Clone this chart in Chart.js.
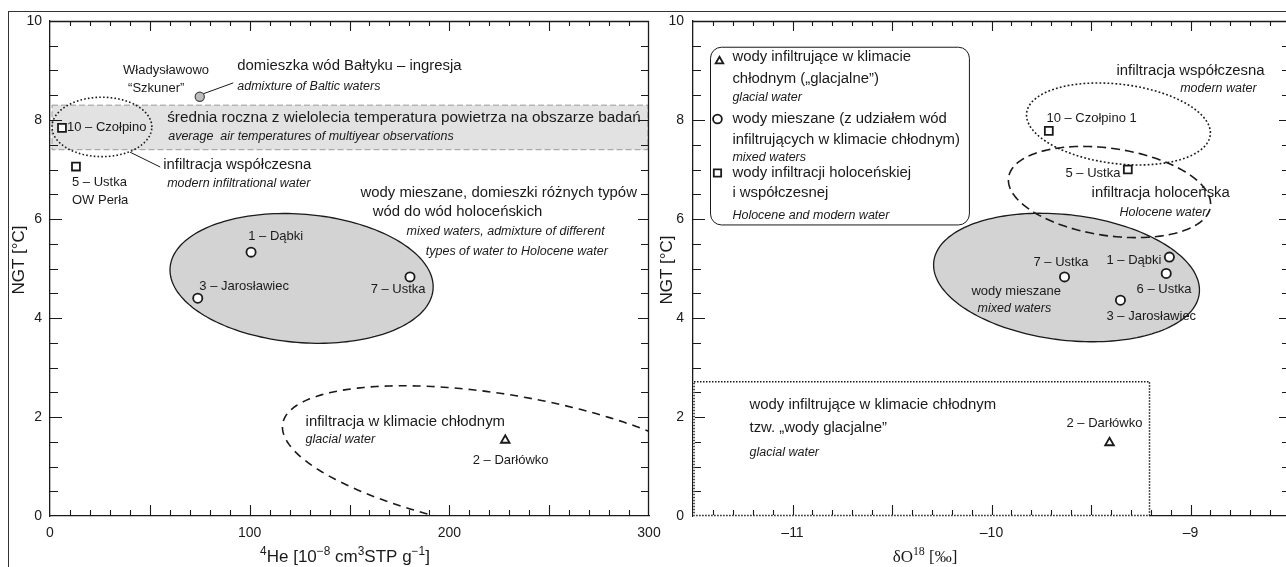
<!DOCTYPE html>
<html>
<head>
<meta charset="utf-8">
<script src="https://cdn.jsdelivr.net/npm/chart.js@4.4.0/dist/chart.umd.min.js"></script>
<style>
  html, body { margin: 0; padding: 0; background: #fff; overflow: hidden; }
  #frame { position: absolute; left: 8px; top: 11px; width: 1290px; height: 570px;
           border-top: 1.3px solid #333; border-left: 1.3px solid #333; }
  canvas { position: absolute; top: 0; }
  #left { left: 0; }
  #right { left: 650px; }
</style>
</head>
<body>
<div id="frame"></div>
<canvas id="left" width="662" height="567"></canvas>
<canvas id="right" width="652" height="567"></canvas>
<script>
// ---- data: 4He vs NGT (left panel)
const heSquareX = [6, 13];            // 10 – Czołpino, 5 – Ustka OW Perła
const heSquareY = [7.84, 7.06];
const heCircleX = [100.7, 74, 180.3]; // 1 – Dąbki, 3 – Jarosławiec, 7 – Ustka
const heCircleY = [5.33, 4.40, 4.83];
const heTriangleX = [228];            // 2 – Darłówko
const heTriangleY = [1.53];
const heBalticX = [75];               // Władysławowo "Szkuner"
const heBalticY = [8.47];

// ---- data: d18O vs NGT (right panel)
const oSquareX = [-9.712, -9.315];    // 10 – Czołpino 1, 5 – Ustka
const oSquareY = [7.78, 7.0];
const oCircleX = [-9.633, -9.106, -9.122, -9.352]; // 7 – Ustka, 1 – Dąbki, 6 – Ustka, 3 – Jarosławiec
const oCircleY = [4.83, 5.23, 4.90, 4.36];
const oTriangleX = [-9.407];          // 2 – Darłówko
const oTriangleY = [1.48];

const ngtTicks = [0, 2, 4, 6, 8, 10];
const heTicks = [0, 100, 200, 300];
const oTicks = [-11, -10, -9];

const FONT = '"Liberation Sans", Arial, Helvetica, sans-serif';
const INK = '#1a1a1a';

function pts(xs, ys) { return xs.map((x, i) => ({ x: x, y: ys[i] })); }

function txt(ctx, s, x, y, size, italic, align) {
  ctx.font = (italic ? 'italic ' : '') + size + 'px ' + FONT;
  ctx.textAlign = align || 'left';
  ctx.textBaseline = 'middle';
  ctx.fillStyle = INK;
  ctx.fillText(s, x, y);
}

// draw a run of normal/superscript pieces centred on cx
function rich(ctx, parts, cx, y, size, family) {
  let w = 0;
  parts.forEach(p => {
    ctx.font = (p.sup ? size * 0.7 : size) + 'px ' + family;
    w += ctx.measureText(p.t).width;
  });
  let x = cx - w / 2;
  ctx.textAlign = 'left';
  ctx.textBaseline = 'alphabetic';
  ctx.fillStyle = INK;
  parts.forEach(p => {
    ctx.font = (p.sup ? size * 0.7 : size) + 'px ' + family;
    ctx.fillText(p.t, x, p.sup ? y - size * 0.4 : y);
    x += ctx.measureText(p.t).width;
  });
}

function ellipsePath(ctx, xs, ys, e) {
  ctx.beginPath();
  for (let i = 0; i <= 180; i++) {
    const t = i / 180 * Math.PI * 2;
    const px = xs.getPixelForValue(e.cx + e.ux * Math.cos(t) + e.vx * Math.sin(t));
    const py = ys.getPixelForValue(e.cy + e.uy * Math.cos(t) + e.vy * Math.sin(t));
    if (i === 0) ctx.moveTo(px, py); else ctx.lineTo(px, py);
  }
  ctx.closePath();
}

function axisTicks(chart, xs0, xs1, xstep, xmajor, ys0, ys1, ystep, ymajor) {
  const ctx = chart.ctx, a = chart.chartArea;
  const xs = chart.scales.x, ys = chart.scales.y;
  ctx.save();
  ctx.strokeStyle = INK;
  ctx.lineWidth = 1.1;
  ctx.beginPath();
  const nx = Math.round((xs1 - xs0) / xstep);
  for (let i = 1; i < nx; i++) {
    const v = xs0 + i * xstep;
    const p = Math.round(xs.getPixelForValue(v)) + 0.5;
    const big = Math.abs(v / xmajor - Math.round(v / xmajor)) < 1e-6;
    ctx.moveTo(p, a.bottom); ctx.lineTo(p, a.bottom - (big ? 11 : 6));
    ctx.moveTo(p, a.top); ctx.lineTo(p, a.top + (big ? 10 : 5));
  }
  const ny = Math.round((ys1 - ys0) / ystep);
  for (let i = 1; i < ny; i++) {
    const v = ys0 + i * ystep;
    const p = Math.round(ys.getPixelForValue(v)) + 0.5;
    const big = Math.abs(v / ymajor - Math.round(v / ymajor)) < 1e-6;
    ctx.moveTo(a.left, p); ctx.lineTo(a.left + (big ? 12 : 8), p);
    ctx.moveTo(a.right, p); ctx.lineTo(a.right - (big ? 11 : 8), p);
  }
  ctx.stroke();
  // mirrored top and right borders
  ctx.lineWidth = 1.3;
  ctx.beginPath();
  ctx.moveTo(a.left, a.top + 0.5); ctx.lineTo(a.right, a.top + 0.5);
  ctx.moveTo(a.right - 0.5, a.top); ctx.lineTo(a.right - 0.5, a.bottom);
  ctx.stroke();
  ctx.restore();
}

function yTitle(ctx, x, y) {
  ctx.save();
  ctx.translate(x, y);
  ctx.rotate(-Math.PI / 2);
  txt(ctx, 'NGT [°C]', 0, 0, 17, false, 'center');
  ctx.restore();
}

function pointSets(sq, ci, tr, extra) {
  const base = { backgroundColor: '#fff', borderColor: INK, borderWidth: 1.8 };
  const sets = [
    Object.assign({ label: 'sq', data: sq, pointStyle: 'rect', pointRadius: 5.6 }, base),
    Object.assign({ label: 'ci', data: ci, pointStyle: 'circle', pointRadius: 4.6 }, base),
    Object.assign({ label: 'tr', data: tr, pointStyle: 'triangle', pointRadius: 5 }, base)
  ];
  if (extra) sets.push(extra);
  return sets;
}

function noPad(s) { s.paddingLeft = 0; s.paddingRight = 0; s.paddingTop = 0; s.paddingBottom = 0; }

function axes(xmin, xmax, xticks, yw, ypad, fmt) {
  const tickFont = { family: FONT, size: 14 };
  return {
    x: {
      type: 'linear', min: xmin, max: xmax,
      grid: { display: false },
      border: { color: INK, width: 1.3 },
      afterBuildTicks: s => { s.ticks = xticks.map(v => ({ value: v })); },
      ticks: { color: INK, font: tickFont, padding: 1, maxRotation: 0, callback: fmt },
      afterFit: s => { s.height = 51; noPad(s); }
    },
    y: {
      type: 'linear', min: 0, max: 10,
      grid: { display: false },
      border: { color: INK, width: 1.3 },
      afterBuildTicks: s => { s.ticks = ngtTicks.map(v => ({ value: v })); },
      ticks: { color: INK, font: tickFont, padding: ypad },
      afterFit: s => { s.width = yw; noPad(s); }
    }
  };
}

// nudge the right padding until the plot area ends where the figure's frame does
function fitRight(chart, right) {
  for (let k = 0; k < 4; k++) {
    const d = chart.chartArea.right - right;
    if (Math.abs(d) < 0.3) break;
    chart.options.layout.padding.right += d;
    chart.update();
  }
}

// ---------------- left panel: 4He
const leftEllipses = [
  { cx: 126, cy: 4.80, ux: 65.9, uy: -0.17, vx: 0, vy: 1.30, fill: '#d3d3d3', dash: [] },
  { cx: 26, cy: 7.86, ux: 25, uy: 0, vx: 0, vy: 0.6, fill: null, dash: [1.6, 2.2] },
  { cx: 230.3, cy: 1.065, ux: 113.9, uy: -0.733, vx: 0, vy: 1.384, fill: null, dash: [8, 6] }
];
const leftNotes = [
  ['Władysławowo', 36.6, 9.01, 13, false],
  ['“Szkuner”', 39.1, 8.63, 13, false],
  ['domieszka wód Bałtyku – ingresja', 93.8, 9.09, 14.9, false],
  ['admixture of Baltic waters', 93.8, 8.67, 12.5, true],
  ['średnia roczna z wielolecia temperatura powietrza na obszarze badań', 58.7, 8.04, 15.3, false],
  ['average  air temperatures of multiyear observations', 59.2, 7.66, 12.5, true],
  ['10 – Czołpino', 8.5, 7.84, 13, false],
  ['infiltracja współczesna', 56.7, 7.09, 14.9, false],
  ['modern infiltrational water', 58.7, 6.71, 12.5, true],
  ['5 – Ustka', 11, 6.73, 13, false],
  ['OW Perła', 11, 6.38, 13, false],
  ['wody mieszane, domieszki różnych typów', 155.5, 6.53, 14.9, false],
  ['wód do wód holoceńskich', 161.6, 6.14, 14.9, false],
  ['mixed waters, admixture of different', 178.6, 5.74, 12.5, true],
  ['types of water to Holocene water', 188.2, 5.35, 12.5, true],
  ['1 – Dąbki', 99.3, 5.64, 13, false],
  ['3 – Jarosławiec', 74.8, 4.63, 13, false],
  ['7 – Ustka', 160.6, 4.57, 13, false],
  ['infiltracja w klimacie chłodnym', 128, 1.90, 14.9, false],
  ['glacial water', 128, 1.54, 12.5, true],
  ['2 – Darłówko', 211.7, 1.13, 13, false]
];
const leftLeaders = [[76.8, 8.53, 91.8, 8.75], [40.1, 7.35, 55.2, 7.05]];

const leftPlugin = {
  id: 'leftPanel',
  beforeDatasetsDraw(chart) {
    const ctx = chart.ctx, a = chart.chartArea, xs = chart.scales.x, ys = chart.scales.y;
    ctx.save();
    ctx.beginPath(); ctx.rect(a.left, a.top, a.right - a.left, a.bottom - a.top); ctx.clip();
    // mean annual air temperature band
    const b0 = ys.getPixelForValue(8.3), b1 = ys.getPixelForValue(7.4);
    ctx.fillStyle = '#e2e2e2';
    ctx.fillRect(a.left + 2, b0, a.right - a.left - 3, b1 - b0);
    ctx.strokeStyle = '#9a9a9a'; ctx.lineWidth = 1; ctx.setLineDash([6, 3]);
    ctx.strokeRect(a.left + 2, b0, a.right - a.left - 3, b1 - b0);
    leftEllipses.forEach(e => {
      ellipsePath(ctx, xs, ys, e);
      if (e.fill) { ctx.fillStyle = e.fill; ctx.fill(); }
      ctx.setLineDash(e.dash); ctx.strokeStyle = INK; ctx.lineWidth = e.fill ? 1.3 : 1.6;
      ctx.stroke();
    });
    ctx.setLineDash([]);
    ctx.lineWidth = 1; ctx.beginPath();
    leftLeaders.forEach(l => {
      ctx.moveTo(xs.getPixelForValue(l[0]), ys.getPixelForValue(l[1]));
      ctx.lineTo(xs.getPixelForValue(l[2]), ys.getPixelForValue(l[3]));
    });
    ctx.stroke();
    ctx.restore();
  },
  afterDraw(chart) {
    const ctx = chart.ctx, xs = chart.scales.x, ys = chart.scales.y;
    axisTicks(chart, 0, 300, 10, 50, 0, 10, 0.5, 2);
    leftNotes.forEach(n => txt(ctx, n[0], xs.getPixelForValue(n[1]), ys.getPixelForValue(n[2]), n[3], n[4]));
    yTitle(ctx, 19, 260);
    rich(ctx, [{ t: '4', sup: true }, { t: 'He [10' }, { t: '−8', sup: true }, { t: ' cm' }, { t: '3', sup: true },
               { t: 'STP g' }, { t: '−1', sup: true }, { t: ']' }], 345, 562, 17, FONT);
  }
};

const leftChart = new Chart(document.getElementById('left').getContext('2d'), {
  type: 'scatter',
  data: {
    datasets: pointSets(pts(heSquareX, heSquareY), pts(heCircleX, heCircleY), pts(heTriangleX, heTriangleY),
      { label: 'baltic', data: pts(heBalticX, heBalticY), pointStyle: 'circle', pointRadius: 4.6,
        backgroundColor: '#bdbdbd', borderColor: '#444', borderWidth: 1.2 })
  },
  options: {
    responsive: false, animation: false, events: [],
    layout: { padding: { top: 21, right: 8, left: 0, bottom: 0 } },
    plugins: { legend: { display: false }, tooltip: { enabled: false } },
    scales: axes(0, 300, heTicks, 50, 0, v => v)
  },
  plugins: [leftPlugin]
});
fitRight(leftChart, 649);

// ---------------- right panel: d18O
const rightEllipses = [
  { cx: -9.623, cy: 4.818, ux: 0.668, uy: -0.253, vx: 0, vy: 1.273, fill: '#d3d3d3', dash: [] },
  { cx: -9.362, cy: 7.92, ux: 0.462, uy: -0.182, vx: 0, vy: 0.808, fill: null, dash: [1.8, 2.2] },
  { cx: -9.407, cy: 6.545, ux: 0.508, uy: -0.242, vx: 0, vy: 0.889, fill: null, dash: [9, 5] }
];
const rightNotes = [
  ['wody infiltrujące w klimacie', -11.302, 9.27, 14.9, false],
  ['chłodnym („glacjalne”)', -11.302, 8.83, 14.9, false],
  ['glacial water', -11.302, 8.46, 12.5, true],
  ['wody mieszane (z udziałem wód', -11.302, 8.02, 14.9, false],
  ['infiltrujących w klimacie chłodnym)', -11.302, 7.60, 14.9, false],
  ['mixed waters', -11.302, 7.25, 12.5, true],
  ['wody infiltracji holoceńskiej', -11.302, 6.93, 14.9, false],
  ['i współczesnej', -11.302, 6.53, 14.9, false],
  ['Holocene and modern water', -11.302, 6.08, 12.5, true],
  ['infiltracja współczesna', -9.372, 8.99, 14.9, false],
  ['modern water', -8.668, 8.63, 12.5, true, 'right'],
  ['10 – Czołpino 1', -9.724, 8.04, 13, false],
  ['5 – Ustka', -9.628, 6.93, 13, false],
  ['infiltracja holoceńska', -9.497, 6.53, 14.9, false],
  ['Holocene water', -9.357, 6.14, 12.5, true],
  ['wody mieszane', -10.101, 4.53, 13, false],
  ['mixed waters', -10.070, 4.20, 12.5, true],
  ['7 – Ustka', -9.789, 5.13, 13, false],
  ['1 – Dąbki', -9.422, 5.17, 13, false],
  ['6 – Ustka', -9.271, 4.57, 13, false],
  ['3 – Jarosławiec', -9.422, 4.04, 13, false],
  ['wody infiltrujące w klimacie chłodnym', -11.216, 2.24, 14.9, false],
  ['tzw. „wody glacjalne”', -11.216, 1.78, 14.9, false],
  ['glacial water', -11.216, 1.29, 12.5, true],
  ['2 – Darłówko', -9.623, 1.88, 13, false]
];
const legendBox = { x0: -11.412, x1: -10.111, y0: 5.88, y1: 9.47 };
const legendMarks = [['triangle', -11.367, 9.19], ['circle', -11.377, 8.02], ['rect', -11.377, 6.93]];
const glacialBox = { x0: -11.5, x1: -9.206, y0: 0, y1: 2.71 };

const rightPlugin = {
  id: 'rightPanel',
  beforeDatasetsDraw(chart) {
    const ctx = chart.ctx, a = chart.chartArea, xs = chart.scales.x, ys = chart.scales.y;
    ctx.save();
    ctx.beginPath(); ctx.rect(a.left, a.top, a.right - a.left, a.bottom - a.top); ctx.clip();
    rightEllipses.forEach(e => {
      ellipsePath(ctx, xs, ys, e);
      if (e.fill) { ctx.fillStyle = e.fill; ctx.fill(); }
      ctx.setLineDash(e.dash); ctx.strokeStyle = INK; ctx.lineWidth = e.fill ? 1.3 : 1.6;
      ctx.stroke();
    });
    ctx.setLineDash([]);
    // legend frame
    const lx0 = xs.getPixelForValue(legendBox.x0), lx1 = xs.getPixelForValue(legendBox.x1);
    const ly0 = ys.getPixelForValue(legendBox.y1), ly1 = ys.getPixelForValue(legendBox.y0);
    ctx.beginPath();
    ctx.roundRect(lx0, ly0, lx1 - lx0, ly1 - ly0, 11);
    ctx.fillStyle = '#fff'; ctx.fill();
    ctx.lineWidth = 1; ctx.strokeStyle = INK; ctx.stroke();
    ctx.restore();
  },
  afterDraw(chart) {
    const ctx = chart.ctx, xs = chart.scales.x, ys = chart.scales.y;
    axisTicks(chart, -11.5, -8.5, 0.1, 0.5, 0, 10, 0.5, 2);
    // dotted glacial-water box (overlays the axes)
    const gx0 = xs.getPixelForValue(glacialBox.x0), gx1 = xs.getPixelForValue(glacialBox.x1);
    const gy0 = ys.getPixelForValue(glacialBox.y1), gy1 = ys.getPixelForValue(glacialBox.y0);
    ctx.save();
    ctx.strokeStyle = '#fff'; ctx.lineWidth = 2;
    ctx.beginPath(); ctx.moveTo(gx0 + 1, gy0); ctx.lineTo(gx0 + 1, gy1); ctx.lineTo(gx1, gy1); ctx.stroke();
    ctx.strokeStyle = INK; ctx.lineWidth = 1.5; ctx.setLineDash([1.5, 1.5]);
    ctx.beginPath(); ctx.rect(gx0 + 1, gy0, gx1 - gx0 - 1, gy1 - gy0 - 0.5); ctx.stroke();
    ctx.restore();
    // legend symbols
    ctx.save();
    ctx.fillStyle = '#fff';
    ctx.strokeStyle = INK;
    ctx.lineWidth = 1.8;
    legendMarks.forEach(m => {
      Chart.helpers.drawPoint(ctx, { pointStyle: m[0], radius: m[0] === 'rect' ? 5.2 : 4.4, rotation: 0, borderWidth: 1.8 },
        xs.getPixelForValue(m[1]), ys.getPixelForValue(m[2]));
    });
    ctx.restore();
    rightNotes.forEach(n => txt(ctx, n[0], xs.getPixelForValue(n[1]), ys.getPixelForValue(n[2]), n[3], n[4], n[5]));
    yTitle(ctx, 17, 270);
    rich(ctx, [{ t: 'δO' }, { t: '18', sup: true }, { t: ' [‰]' }], 275, 562, 17, '"Liberation Serif", "Times New Roman", serif');
  }
};

const rightChart = new Chart(document.getElementById('right').getContext('2d'), {
  type: 'scatter',
  data: {
    datasets: pointSets(pts(oSquareX, oSquareY), pts(oCircleX, oCircleY), pts(oTriangleX, oTriangleY))
  },
  options: {
    responsive: false, animation: false, events: [],
    layout: { padding: { top: 21, right: 8, left: 0, bottom: 0 } },
    plugins: { legend: { display: false }, tooltip: { enabled: false } },
    scales: axes(-11.5, -8.5, oTicks, 43, 1, v => (v < 0 ? '–' + Math.abs(v) : v))
  },
  plugins: [rightPlugin]
});
fitRight(rightChart, 640);
</script>
</body>
</html>
